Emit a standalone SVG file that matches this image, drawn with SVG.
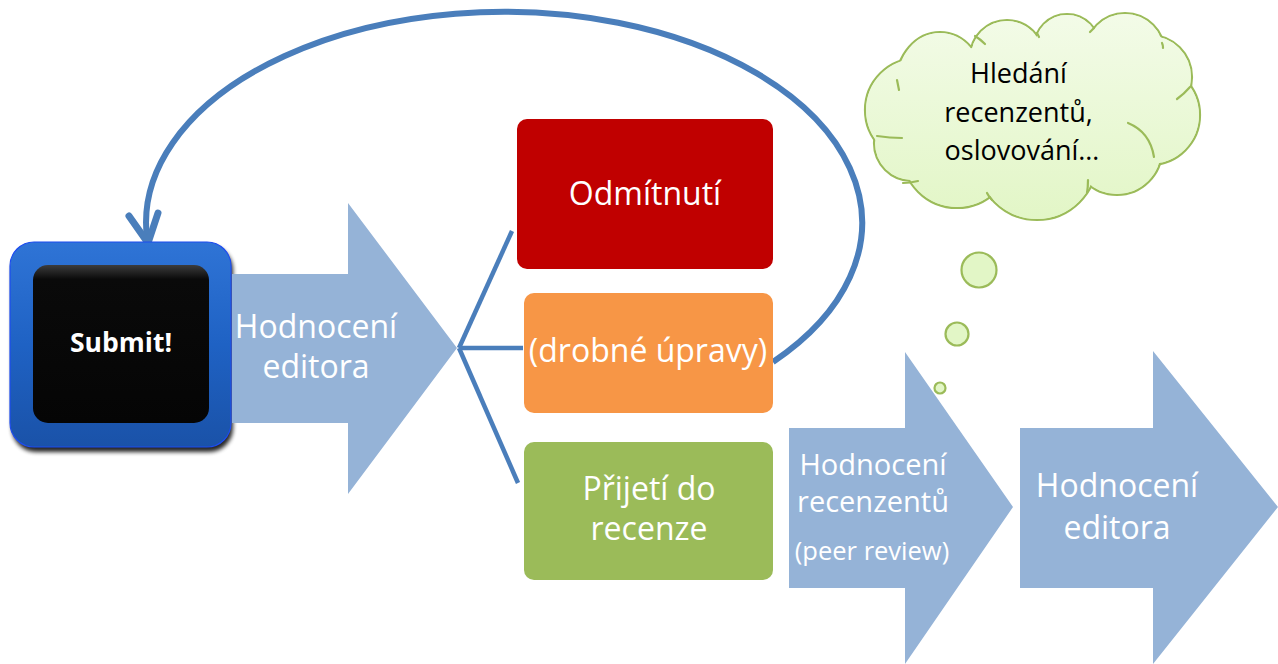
<svg xmlns="http://www.w3.org/2000/svg" width="1278" height="664" viewBox="0 0 1278 664">
<defs>
<style>
.arrow{fill:#95b3d7}
.wt{fill:#ffffff;font-family:"Open Sans","Noto Sans",sans-serif;text-anchor:middle}
.conn{stroke:#4a7ebb;fill:none}
.cl{fill:url(#cloudG);stroke:#9bbb59;stroke-width:2.2}
.clf{fill:url(#cloudG);stroke:none}
.clh{fill:none;stroke:#9bbb59;stroke-width:2.2;stroke-linecap:round}
</style>
<linearGradient id="blueG" x1="0" y1="0" x2="0" y2="1">
<stop offset="0" stop-color="#2f74d6"/>
<stop offset="0.5" stop-color="#1f62c4"/>
<stop offset="1" stop-color="#1a52a8"/>
</linearGradient>
<linearGradient id="blackG" x1="0" y1="0" x2="0" y2="1">
<stop offset="0" stop-color="#3c3c3c"/>
<stop offset="0.09" stop-color="#0a0a0a"/>
<stop offset="1" stop-color="#050505"/>
</linearGradient>
<linearGradient id="cloudG" gradientUnits="userSpaceOnUse" x1="0" y1="13" x2="0" y2="222">
<stop offset="0" stop-color="#f3fbe8"/>
<stop offset="1" stop-color="#e2f6c6"/>
</linearGradient>
<filter id="blur" x="-10%" y="-10%" width="120%" height="120%">
<feGaussianBlur stdDeviation="2"/>
</filter>
</defs>

<g id="connectors">
<path class="conn" stroke-width="6" d="M 773 362 A 358 211 0 1 0 147 238"/>
<polyline class="conn" stroke-width="7" stroke-linecap="round" stroke-linejoin="miter" points="129,216 148,243 158,213"/>
<line class="conn" stroke-width="4.5" x1="459" y1="348" x2="512" y2="231"/>
<line class="conn" stroke-width="4.5" x1="459" y1="348" x2="523" y2="348"/>
<line class="conn" stroke-width="4.5" x1="459" y1="348" x2="518" y2="483"/>
</g>

<g id="submit">
<rect x="12" y="246" width="221" height="206" rx="24" fill="#000" opacity="0.85" filter="url(#blur)"/>
<rect x="10" y="242" width="221" height="205" rx="24" fill="url(#blueG)" stroke="#1d4cf0" stroke-width="1.2"/>
<rect x="33" y="265" width="176" height="158" rx="15" fill="url(#blackG)"/>
<text x="121" y="352" font-family="'Open Sans','Noto Sans',sans-serif" font-weight="700" font-size="26.5" fill="#fff" text-anchor="middle">Submit!</text>
</g>

<g id="arrow-editor1">
<polygon class="arrow" points="232,274 348,274 348,203 457,348 348,494 348,423 232,423"/>
<text class="wt" font-size="32" x="316" y="338">Hodnocení</text>
<text class="wt" font-size="32" x="316" y="378">editora</text>
</g>

<g id="reject">
<rect x="517" y="119" width="256" height="150" rx="10" fill="#c00000"/>
<text class="wt" font-size="32" x="645" y="205">Odmítnutí</text>
</g>

<g id="minor">
<rect x="524" y="293" width="249" height="120" rx="10" fill="#f79646"/>
<text class="wt" font-size="32" x="648" y="362">(drobné úpravy)</text>
</g>

<g id="accept">
<rect x="524" y="442" width="249" height="138" rx="10" fill="#9bbb59"/>
<text class="wt" font-size="32" x="649" y="500">Přijetí do</text>
<text class="wt" font-size="32" x="649" y="540">recenze</text>
</g>

<g id="arrow-review">
<polygon class="arrow" points="789,428 905,428 905,352 1013,507 905,664 905,588 789,588"/>
<text class="wt" font-size="29" x="873" y="475">Hodnocení</text>
<text class="wt" font-size="29" x="873" y="512">recenzentů</text>
<text class="wt" font-size="25.5" x="872" y="560">(peer review)</text>
</g>

<g id="arrow-editor2">
<polygon class="arrow" points="1020,428 1153,428 1153,351 1278,507 1278,507 1153,664 1153,588 1020,588"/>
<text class="wt" font-size="32" x="1117" y="497">Hodnocení</text>
<text class="wt" font-size="32" x="1117" y="539">editora</text>
</g>

<g id="thought">
<circle class="cl" cx="979" cy="270" r="17.5"/>
<circle class="cl" cx="957" cy="334" r="11.5"/>
<circle class="cl" cx="940" cy="388" r="5.5"/>
<g id="cloud-outline">
<ellipse class="cl" cx="940" cy="83" rx="44" ry="51"/>
<circle class="cl" cx="1007" cy="57" r="37"/>
<circle class="cl" cx="1067" cy="47" r="33"/>
<circle class="cl" cx="1125" cy="53" r="40"/>
<circle class="cl" cx="1150" cy="77" r="42"/>
<circle class="cl" cx="1150" cy="115" r="50"/>
<circle class="cl" cx="1117" cy="150" r="45"/>
<circle class="cl" cx="1037" cy="160" r="60"/>
<circle class="cl" cx="957" cy="153" r="55"/>
<circle class="cl" cx="912" cy="143" r="38"/>
<circle class="cl" cx="917" cy="110" r="52"/>
</g>
<g id="cloud-fill">
<ellipse class="clf" cx="940" cy="83" rx="43" ry="50"/>
<circle class="clf" cx="1007" cy="57" r="36"/>
<circle class="clf" cx="1067" cy="47" r="32"/>
<circle class="clf" cx="1125" cy="53" r="39"/>
<circle class="clf" cx="1150" cy="77" r="41"/>
<circle class="clf" cx="1150" cy="115" r="49"/>
<circle class="clf" cx="1117" cy="150" r="44"/>
<circle class="clf" cx="1037" cy="160" r="59"/>
<circle class="clf" cx="957" cy="153" r="54"/>
<circle class="clf" cx="912" cy="143" r="37"/>
<circle class="clf" cx="917" cy="110" r="51"/>
<ellipse class="clf" cx="1030" cy="115" rx="130" ry="75"/>
</g>
<path class="clh" d="M1128,123 Q1150,132 1154,157"/>
<path class="clh" d="M897,80 Q898,85 899,90"/>
<path class="clh" d="M975,36 Q980,39 985,44"/>
<path class="clh" d="M1037,33 Q1038,35 1039,37"/>
<path class="clh" d="M1090,32 Q1092,30 1094,28"/>
<path class="clh" d="M1162,43 Q1163,45 1163,48"/>
<path class="clh" d="M1190,87 Q1184,94 1177,99"/>
<path class="clh" d="M1088,180 Q1088,187 1087,193"/>
<path class="clh" d="M987,193 Q989,197 992,200"/>
<path class="clh" d="M918,181 Q910,183 903,183"/>
<path class="clh" d="M877,136 Q890,138 902,138"/>
<text font-family="'Open Sans','Noto Sans',sans-serif" font-size="27" fill="#000" text-anchor="middle">
<tspan x="1022" y="83">Hledání</tspan>
<tspan x="1022" y="122">recenzentů,</tspan>
<tspan x="1022" y="160">oslovování…</tspan>
</text>
</g>
</svg>
